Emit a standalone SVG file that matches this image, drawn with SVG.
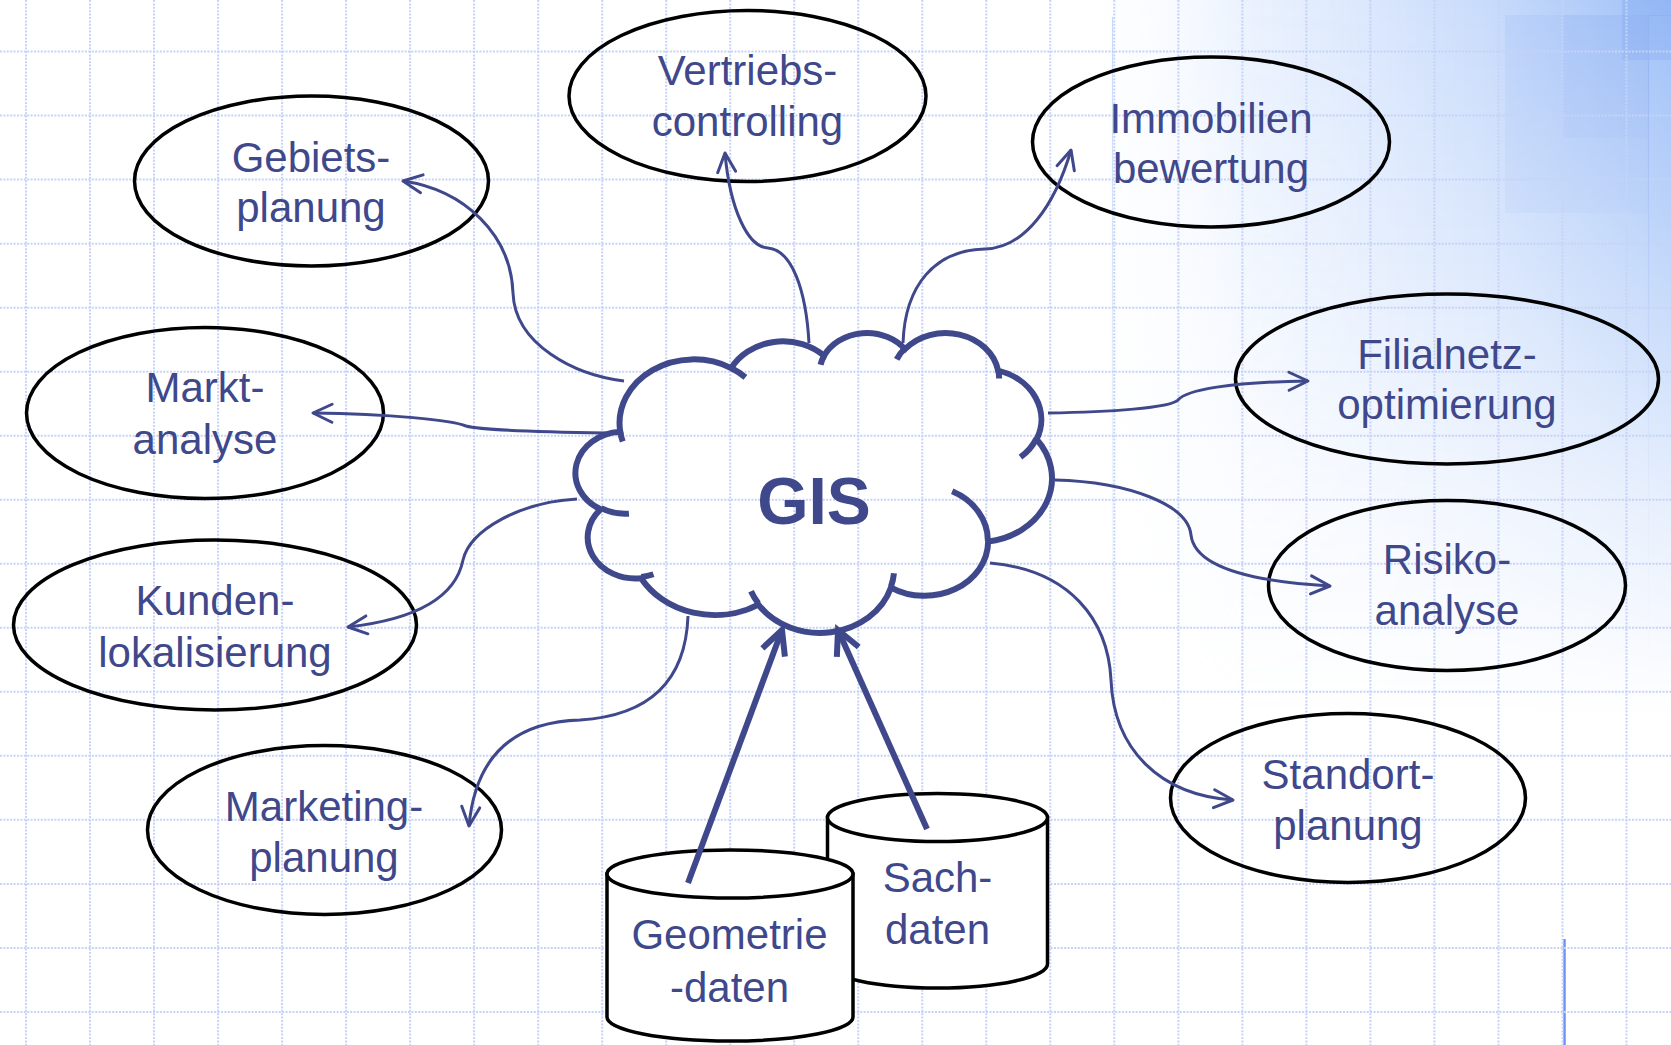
<svg xmlns="http://www.w3.org/2000/svg" width="1671" height="1045" viewBox="0 0 1671 1045">
  <style>
    .grid line { stroke: #c6d3f7; stroke-width: 2; stroke-dasharray: 2 1.4; }
    .app ellipse { fill: none; stroke: #000; stroke-width: 3.5; }
    .lbl { font-family: "Liberation Sans", Arial, sans-serif; font-size: 42px; fill: #40488c; text-anchor: middle; }
    .core { fill: none; stroke: #40488c; stroke-width: 6; vector-effect: non-scaling-stroke; }
    .conn { fill: none; stroke: #40488c; stroke-width: 3; marker-end: url(#arrow); }
    .feed { fill: none; stroke: #40488c; stroke-width: 6; marker-end: url(#arrowBold); }
    .db path, .db ellipse { fill: #fff; stroke: #000; stroke-width: 3.5; }
  </style>
  <defs>
    <marker id="arrow" markerUnits="userSpaceOnUse" orient="auto" refX="0" refY="0" markerWidth="40" markerHeight="40" overflow="visible">
      <path d="M-19,-9 L0,0 L-19,9" fill="none" stroke="#40488c" stroke-width="3" stroke-linecap="round" stroke-linejoin="round"/>
    </marker>
    <marker id="arrowBold" markerUnits="userSpaceOnUse" orient="auto" refX="0" refY="0" markerWidth="60" markerHeight="60" overflow="visible">
      <path d="M-24,-12 L0,0 L-24,12" fill="none" stroke="#40488c" stroke-width="6" stroke-linejoin="miter"/>
    </marker>
    <linearGradient id="tintH" gradientUnits="userSpaceOnUse" x1="1060" y1="0" x2="1671" y2="0">
      <stop offset="0" stop-color="#ffffff" stop-opacity="0"/>
      <stop offset="0.3" stop-color="#e9f1fe" stop-opacity="0.9"/>
      <stop offset="0.7" stop-color="#c8dbfb"/>
      <stop offset="1" stop-color="#9ec0f7"/>
    </linearGradient>
    <linearGradient id="fadeV" gradientUnits="userSpaceOnUse" x1="0" y1="0" x2="0" y2="720">
      <stop offset="0" stop-color="#fff"/>
      <stop offset="0.3" stop-color="#fff" stop-opacity="0.7"/>
      <stop offset="0.7" stop-color="#fff" stop-opacity="0.25"/>
      <stop offset="1" stop-color="#fff" stop-opacity="0"/>
    </linearGradient>
    <mask id="fadeMask" maskUnits="userSpaceOnUse" x="1000" y="0" width="671" height="760">
      <rect x="1000" y="0" width="671" height="760" fill="url(#fadeV)"/>
    </mask>
  </defs>

  <rect width="1671" height="1045" fill="#fff"/>

  <!-- blue corner wash of the slide template -->
  <g id="backdrop" mask="url(#fadeMask)">
    <rect x="1000" y="0" width="671" height="760" fill="url(#tintH)"/>
    <rect x="1505" y="15" width="143" height="198" fill="#8fb4f4" opacity="0.18"/>
    <rect x="1562" y="15" width="86" height="123" fill="#8fb4f4" opacity="0.18"/>
    <rect x="1622" y="0" width="49" height="60" fill="#7ea6f0" opacity="0.35"/>
    <path d="M1648.5,15 V740 M1648.5,15.5 H1671" fill="none" stroke="#8fb0f3" stroke-width="1.2"/>
    <path d="M1112.5,17 V740" fill="none" stroke="#c6d8f9" stroke-width="1.2"/>
  </g>
  <path d="M1564.5,939 V1045" stroke="#7191ef" stroke-width="2.5"/>

  <!-- dotted paper grid -->
  <g class="grid">
    <line x1="26" y1="0" x2="26" y2="1045"/>
    <line x1="90" y1="0" x2="90" y2="1045"/>
    <line x1="154" y1="0" x2="154" y2="1045"/>
    <line x1="218.1" y1="0" x2="218.1" y2="1045"/>
    <line x1="282.1" y1="0" x2="282.1" y2="1045"/>
    <line x1="346.1" y1="0" x2="346.1" y2="1045"/>
    <line x1="410.1" y1="0" x2="410.1" y2="1045"/>
    <line x1="474.1" y1="0" x2="474.1" y2="1045"/>
    <line x1="538.2" y1="0" x2="538.2" y2="1045"/>
    <line x1="602.2" y1="0" x2="602.2" y2="1045"/>
    <line x1="666.2" y1="0" x2="666.2" y2="1045"/>
    <line x1="730.2" y1="0" x2="730.2" y2="1045"/>
    <line x1="794.2" y1="0" x2="794.2" y2="1045"/>
    <line x1="858.3" y1="0" x2="858.3" y2="1045"/>
    <line x1="922.3" y1="0" x2="922.3" y2="1045"/>
    <line x1="986.3" y1="0" x2="986.3" y2="1045"/>
    <line x1="1050.3" y1="0" x2="1050.3" y2="1045"/>
    <line x1="1114.3" y1="0" x2="1114.3" y2="1045"/>
    <line x1="1178.4" y1="0" x2="1178.4" y2="1045"/>
    <line x1="1242.4" y1="0" x2="1242.4" y2="1045"/>
    <line x1="1306.4" y1="0" x2="1306.4" y2="1045"/>
    <line x1="1370.4" y1="0" x2="1370.4" y2="1045"/>
    <line x1="1434.4" y1="0" x2="1434.4" y2="1045"/>
    <line x1="1498.5" y1="0" x2="1498.5" y2="1045"/>
    <line x1="1562.5" y1="0" x2="1562.5" y2="1045"/>
    <line x1="1626.5" y1="0" x2="1626.5" y2="1045"/>
    <line x1="0" y1="51.6" x2="1671" y2="51.6"/>
    <line x1="0" y1="115.6" x2="1671" y2="115.6"/>
    <line x1="0" y1="179.6" x2="1671" y2="179.6"/>
    <line x1="0" y1="243.7" x2="1671" y2="243.7"/>
    <line x1="0" y1="307.7" x2="1671" y2="307.7"/>
    <line x1="0" y1="371.7" x2="1671" y2="371.7"/>
    <line x1="0" y1="435.7" x2="1671" y2="435.7"/>
    <line x1="0" y1="499.7" x2="1671" y2="499.7"/>
    <line x1="0" y1="563.8" x2="1671" y2="563.8"/>
    <line x1="0" y1="627.8" x2="1671" y2="627.8"/>
    <line x1="0" y1="691.8" x2="1671" y2="691.8"/>
    <line x1="0" y1="755.8" x2="1671" y2="755.8"/>
    <line x1="0" y1="819.8" x2="1671" y2="819.8"/>
    <line x1="0" y1="883.9" x2="1671" y2="883.9"/>
    <line x1="0" y1="947.9" x2="1671" y2="947.9"/>
    <line x1="0" y1="1011.9" x2="1671" y2="1011.9"/>
  </g>

  <!-- application fields -->
  <g id="node-gebietsplanung" class="app">
    <ellipse cx="311.5" cy="181" rx="177" ry="85"/>
    <text class="lbl" x="311" y="171.5">Gebiets-</text>
    <text class="lbl" x="311" y="221.5">planung</text>
  </g>
  <g id="node-vertriebscontrolling" class="app">
    <ellipse cx="747.5" cy="96" rx="178.5" ry="85.5"/>
    <text class="lbl" x="747.5" y="85">Vertriebs-</text>
    <text class="lbl" x="747.5" y="136">controlling</text>
  </g>
  <g id="node-immobilienbewertung" class="app">
    <ellipse cx="1211" cy="142" rx="178.5" ry="85"/>
    <text class="lbl" x="1211" y="133">Immobilien</text>
    <text class="lbl" x="1211" y="183">bewertung</text>
  </g>
  <g id="node-filialnetzoptimierung" class="app">
    <ellipse cx="1447" cy="379" rx="211.5" ry="85"/>
    <text class="lbl" x="1447" y="369">Filialnetz-</text>
    <text class="lbl" x="1447" y="419">optimierung</text>
  </g>
  <g id="node-risikoanalyse" class="app">
    <ellipse cx="1447" cy="585.5" rx="178.5" ry="85"/>
    <text class="lbl" x="1447" y="574">Risiko-</text>
    <text class="lbl" x="1447" y="625">analyse</text>
  </g>
  <g id="node-standortplanung" class="app">
    <ellipse cx="1348" cy="798" rx="177.5" ry="84.5"/>
    <text class="lbl" x="1348" y="788.5">Standort-</text>
    <text class="lbl" x="1348" y="839.5">planung</text>
  </g>
  <g id="node-marktanalyse" class="app">
    <ellipse cx="205" cy="413" rx="178.5" ry="85.5"/>
    <text class="lbl" x="205" y="402">Markt-</text>
    <text class="lbl" x="205" y="454">analyse</text>
  </g>
  <g id="node-kundenlokalisierung" class="app">
    <ellipse cx="215" cy="625" rx="201.5" ry="85"/>
    <text class="lbl" x="215" y="615">Kunden-</text>
    <text class="lbl" x="215" y="666.5">lokalisierung</text>
  </g>
  <g id="node-marketingplanung" class="app">
    <ellipse cx="324.5" cy="830" rx="177" ry="84.5"/>
    <text class="lbl" x="324" y="821">Marketing-</text>
    <text class="lbl" x="324" y="872">planung</text>
  </g>

  <!-- data stores -->
  <g id="node-sachdaten" class="db">
    <path d="M827.5,817.5 V964 A110,24 0 0 0 1047.5,964 V817.5 Z"/>
    <ellipse cx="937.5" cy="817.5" rx="110" ry="24"/>
    <text class="lbl" x="937.5" y="891.5">Sach-</text>
    <text class="lbl" x="937.5" y="944">daten</text>
  </g>
  <g id="node-geometriedaten" class="db">
    <path d="M607,874 V1017 A123,24 0 0 0 853,1017 V874 Z"/>
    <ellipse cx="730" cy="874" rx="123" ry="24"/>
    <text class="lbl" x="729.5" y="948.5">Geometrie</text>
    <text class="lbl" x="729.5" y="1001.5">-daten</text>
  </g>

  <!-- GIS cloud: outline in a 43200 x 43200 design frame -->
  <g id="node-gis">
    <g transform="translate(577.4,332) scale(0.010981,0.006942)">
      <path class="core" d="M3900,14370 A6753,9190 0 0 1 14004.7,5201.6 A5333,7267 0 0 1 22456,3430.2 A4365,5945 0 0 1 29831.5,2474.8 A4857,6595 0 0 1 38317.1,5569.3 A5333,7273 0 0 1 41817.5,15453.2 A6775,9220 0 0 1 37404.9,30199.2 A5785,7867 0 0 1 28556.2,36809.1 A6752,9215 0 0 1 16481.5,39262.3 A7720,10543 0 0 1 5804.3,35467.9 A4360,5918 0 0 1 2113.1,25546.1 A4345,5945 0 0 1 3900,14370 Z"/>
      <path class="core" d="M4693,26177 A4345,5945 0 0 1 2159.1,25379.4 M6928,34899 A4360,5918 0 0 1 5819.6,35280.4 M16478,39090 A6752,9215 0 0 1 15809.3,37348.5 M28827,34751 A6752,9215 0 0 1 28560.4,36659.8 M34129,22954 A5785,7867 0 0 1 37380.3,30089.5 M41798,15354 A5333,7273 0 0 1 40349.9,18030 M38324,5426 A4857,6595 0 0 1 38400.4,6689.6 M29078,3952 A4857,6595 0 0 1 29819.6,2340.1 M22141,4720 A4365,5945 0 0 1 22499.9,3330.8 M14000,5192 A6753,9190 0 0 1 15299.9,6540.2 M4127,15789 A6753,9190 0 0 1 3900.4,14371.6"/>
    </g>
    <text x="814" y="524" font-family="'Liberation Sans', Arial, sans-serif" font-size="66" font-weight="bold" fill="#40488c" text-anchor="middle">GIS</text>
  </g>

  <!-- connectors -->
  <g id="connectors">
    <path class="conn" d="M624,381 C575,375 515,345 513,293 C511,235 465,190 403,181"/>
    <path class="conn" d="M809,343 C806,290 792,250 768,248 C748,247 730,210 725,153"/>
    <path class="conn" d="M903,343 C905,285 935,250 985,249 C1025,248 1055,205 1071,150"/>
    <path class="conn" d="M1048,413 C1110,412 1170,408 1178,400 C1186,390 1230,382 1308,381"/>
    <path class="conn" d="M1055,480 C1130,482 1188,505 1191,535 C1195,570 1260,582 1330,586"/>
    <path class="conn" d="M990,563 C1070,570 1108,620 1111,680 C1114,750 1160,795 1233,800"/>
    <path class="conn" d="M606,433 C540,432 480,430 466,426 C452,420 390,414 313,413"/>
    <path class="conn" d="M577,499 C520,502 470,530 463,560 C455,600 410,620 348,627"/>
    <path class="conn" d="M688,616 C686,670 660,715 580,720 C510,722 475,760 469,826"/>
    <path class="feed" d="M688,883 L782,630"/>
    <path class="feed" d="M927,829 L838,630"/>
  </g>
</svg>
